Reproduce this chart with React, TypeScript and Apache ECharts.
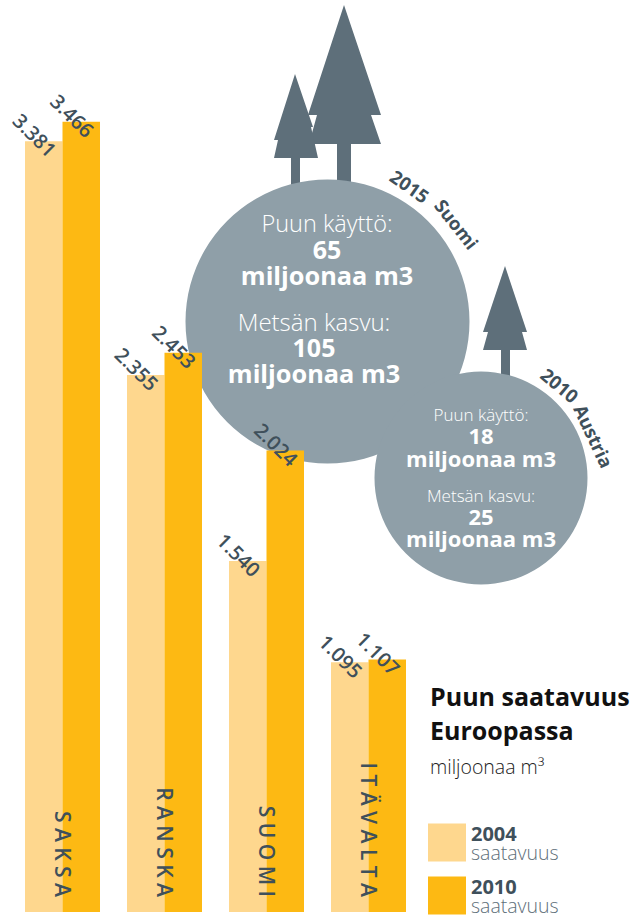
import React, { useEffect, useRef } from "react";
import * as echarts from "echarts";

const categories = ["SAKSA", "RANSKA", "SUOMI", "ITÄVALTA"];
const values2004 = [3381, 2355, 1540, 1095];
const values2010 = [3466, 2453, 2024, 1107];
const seriesNames = ["2004", "2010"];
const legendSub = "saatavuus";
const titleLines = ["Puun saatavuus", "Euroopassa"];
const unitText = "miljoonaa m³";

const LIGHT = "#FED78E";
const AMBER = "#FDB913";
const CIRCLE = "#8F9FA8";
const TREE = "#5E6F7A";
const INK = "#3F505B";
const FONT = "Open Sans";

const fmt = (v: number) => {
  const s = String(v);
  return s.slice(0, -3) + "." + s.slice(-3);
};
const spaced = (s: string) => s.split("").join(" ");

const tree = (pts: number[][]) => ({
  type: "polygon",
  z: -2,
  silent: true,
  shape: { points: pts },
  style: { fill: TREE },
});

const txt = (
  text: string,
  x: number,
  y: number,
  size: number,
  weight: string | number,
  fill: string,
  rot = 0,
  align = "center",
) => ({
  type: "text",
  x,
  y,
  rotation: (-rot * Math.PI) / 180,
  z: 1,
  silent: true,
  style: { text, fill, font: `${weight} ${size}px "${FONT}"`, align, verticalAlign: "middle" },
});

const barLabel = {
  show: true,
  position: "top",
  distance: 0,
  rotate: -45,
  align: "center",
  verticalAlign: "middle",
  offset: [-10.6, 2.1],
  color: INK,
  fontFamily: FONT,
  fontSize: 20,
  fontWeight: 600,
  formatter: (p: any) => fmt(p.value),
};

export default function App() {
  const ref = useRef<HTMLDivElement>(null);
  useEffect(() => {
    const chart = echarts.init(ref.current!, undefined, { renderer: "svg" });
    chart.setOption({
      animation: false,
      backgroundColor: "#fff",
      grid: { left: 11.5, top: 0, width: 408, height: 912 },
      xAxis: {
        type: "category",
        data: categories,
        z: 10,
        axisLine: { show: false },
        axisTick: { show: false },
        axisLabel: {
          inside: true,
          rotate: -90,
          margin: 15,
          align: "right",
          verticalAlign: "middle",
          interval: 0,
          color: INK,
          fontFamily: FONT,
          fontWeight: 600,
          fontSize: 21,
          formatter: (v: string) => spaced(v),
        },
      },
      yAxis: { type: "value", min: 0, max: 4000, show: false, splitLine: { show: false } },
      legend: {
        left: 428,
        top: 823,
        height: 120,
        padding: 0,
        orient: "vertical",
        itemWidth: 38,
        itemHeight: 38,
        itemGap: 14,
        icon: "rect",
        selectedMode: false,
        data: seriesNames,
        formatter: (n: string) => `{a|${n}}\n{b|${legendSub}}`,
        textStyle: {
          rich: {
            a: { fontFamily: FONT, fontWeight: 700, fontSize: 20, color: INK, lineHeight: 19 },
            b: { fontFamily: FONT, fontWeight: 300, fontSize: 19.5, color: "#5E6F7A", lineHeight: 19 },
          },
        },
      },
      graphic: [
        tree([[344, 5], [381, 115], [371, 115], [381, 144], [351, 144], [351, 185], [337, 185], [337, 144], [309, 144], [317, 115], [308, 115]]),
        tree([[295, 74], [313, 127], [311, 127], [318, 158], [300, 158], [300, 188], [291, 188], [291, 158], [274, 158], [278, 140], [274, 140]]),
        tree([[505, 266], [527, 332], [522, 332], [527, 350], [510, 350], [510, 378], [501, 378], [501, 350], [483, 350], [488, 332], [483, 332]]),
        { type: "circle", z: -1, silent: true, shape: { cx: 327.5, cy: 321.5, r: 142 }, style: { fill: CIRCLE } },
        { type: "circle", z: -1, silent: true, shape: { cx: 481, cy: 478, r: 106.5 }, style: { fill: CIRCLE } },
        txt("Puun käyttö:", 327, 223, 23.5, 300, "#fff"),
        txt("65", 327, 249, 25, 700, "#fff"),
        txt("miljoonaa m3", 327, 275, 25.3, 700, "#fff"),
        txt("Metsän kasvu:", 314, 321, 24, 300, "#fff"),
        txt("105", 314, 347, 25, 700, "#fff"),
        txt("miljoonaa m3", 314, 373, 25.3, 700, "#fff"),
        txt("Puun käyttö:", 481, 414, 17, 300, "#fff"),
        txt("18", 481, 435, 22, 700, "#fff"),
        txt("miljoonaa m3", 481, 458, 22, 700, "#fff"),
        txt("Metsän kasvu:", 481, 495, 17, 300, "#fff"),
        txt("25", 481, 516, 22, 700, "#fff"),
        txt("miljoonaa m3", 481, 538, 22, 700, "#fff"),
        txt("2015", 410, 186, 18.5, 700, INK, 35),
        txt("Suomi", 457, 224, 18.5, 700, INK, 52),
        txt("2010", 560, 385, 18.5, 700, INK, 40),
        txt("Austria", 594, 436, 18.5, 700, INK, 65),
        txt(titleLines[0], 430, 696, 25, 700, "#111", 0, "left"),
        txt(titleLines[1], 430, 730, 25, 700, "#111", 0, "left"),
        txt(unitText, 430, 766, 19.5, 300, "#222", 0, "left"),
      ],
      series: [
        { name: seriesNames[0], type: "bar", data: values2004, barWidth: 37.5, barGap: 0, itemStyle: { color: LIGHT }, label: barLabel },
        { name: seriesNames[1], type: "bar", data: values2010, barWidth: 37.5, barGap: 0, itemStyle: { color: AMBER }, label: barLabel },
      ],
    });
    return () => chart.dispose();
  }, []);
  return <div ref={ref} style={{ position: "absolute", left: 0, top: 0, width: 642, height: 918 }} />;
}
